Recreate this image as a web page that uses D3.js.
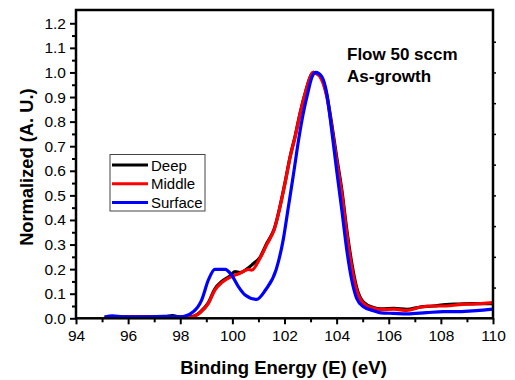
<!DOCTYPE html>
<html><head><meta charset="utf-8">
<script src="https://cdn.jsdelivr.net/npm/d3@7"></script>
<style>body{margin:0;background:#fff}svg{display:block}text{font-family:"Liberation Sans",Arial,sans-serif}</style>
</head><body><svg id="c" width="515" height="380"></svg>
<script>
const seriesNames = ["Deep", "Middle", "Surface"];
const seriesColors = ["#000000", "#ff0000", "#0000ff"];
const deepX = [95.1,95.6,96.2,96.8,97.4,97.7,97.99,98.37,98.76,99.08,99.33,99.59,99.91,100.1,100.29,100.55,100.8,101.06,101.32,101.6,102.02,102.22,102.41,102.6,102.83,102.97,103.1,103.2,103.36,103.62,103.81,104.0,104.2,104.39,104.58,104.77,105.03,105.41,105.7,106.2,106.7,107.2,107.7,108.2,108.7,109.2,110.0];
const deepY = [0.005,0.006,0.005,0.007,0.008,0.011,0.006,0.006,0.025,0.064,0.12,0.15,0.172,0.19,0.186,0.2,0.222,0.248,0.305,0.362,0.552,0.66,0.742,0.836,0.93,0.978,1.0,0.998,0.988,0.91,0.792,0.657,0.522,0.36,0.225,0.125,0.066,0.044,0.038,0.04,0.036,0.046,0.05,0.056,0.058,0.06,0.06];
const middleX = [95.1,95.6,96.2,96.8,97.4,97.99,98.37,98.76,99.08,99.33,99.59,99.91,100.29,100.61,100.74,101.06,101.32,101.6,102.02,102.22,102.41,102.6,102.83,102.97,103.1,103.2,103.36,103.62,103.81,104.0,104.2,104.39,104.58,104.77,105.03,105.41,105.7,106.2,106.7,107.2,107.7,108.2,108.7,109.2,110.0];
const middleY = [0.004,0.005,0.006,0.006,0.007,0.002,0.004,0.023,0.061,0.115,0.145,0.167,0.183,0.199,0.196,0.244,0.3,0.359,0.549,0.657,0.739,0.834,0.929,0.976,1.0,0.996,0.983,0.902,0.78,0.644,0.509,0.346,0.21,0.115,0.061,0.041,0.036,0.037,0.032,0.045,0.05,0.05,0.056,0.058,0.064];
const surfaceX = [95.1,95.4,95.8,96.2,96.8,97.4,97.99,98.5,98.82,99.08,99.33,99.72,99.97,100.23,100.49,100.93,101.27,101.68,101.95,102.15,102.35,102.54,102.72,102.89,103.06,103.2,103.43,103.62,103.81,104.0,104.2,104.39,104.58,104.77,105.03,105.41,105.7,106.2,106.7,107.45,108.1,108.7,109.36,110.0];
const surfaceY = [0.005,0.01,0.006,0.006,0.006,0.007,0.006,0.027,0.074,0.156,0.199,0.199,0.176,0.129,0.095,0.077,0.115,0.198,0.319,0.454,0.59,0.725,0.834,0.915,0.983,1.0,0.983,0.915,0.766,0.603,0.44,0.278,0.156,0.081,0.047,0.031,0.022,0.02,0.018,0.023,0.027,0.027,0.031,0.037];
const xTicks = [94,96,98,100,102,104,106,108,110];
const yTicks = [0,0.1,0.2,0.3,0.4,0.5,0.6,0.7,0.8,0.9,1.0,1.1,1.2];
const xLabel = "Binding Energy (E) (eV)";
const yLabel = "Normalized (A. U.)";
const annotation = ["Flow 50 sccm", "As-growth"];

const svg = d3.select("#c");
const L = 76, R = 493, T = 10, B = 318.3;
const x = d3.scaleLinear().domain([94,110]).range([L,R]);
const y = d3.scaleLinear().domain([0,1.254]).range([B,T]);

const data = [[deepX,deepY],[middleX,middleY],[surfaceX,surfaceY]];
const line = d3.line().x(d=>x(d[0])).y(d=>y(d[1])).curve(d3.curveMonotoneX);
svg.append("clipPath").attr("id","cp").append("rect").attr("x",L).attr("y",T).attr("width",R-L).attr("height",B-T);
const g = svg.append("g").attr("clip-path","url(#cp)");
data.forEach((s,i)=>{
  const pts = s[0].map((v,j)=>[v,s[1][j]]);
  g.append("path").attr("d",line(pts)).attr("fill","none").attr("stroke",seriesColors[i]).attr("stroke-width",3.2).attr("stroke-linejoin","round");
});

// frame
svg.append("rect").attr("x",L).attr("y",T).attr("width",R-L).attr("height",B-T).attr("fill","none").attr("stroke","#000").attr("stroke-width",2.5);

// axes
const xAx = svg.append("g").attr("transform",`translate(0,${B})`)
  .call(d3.axisBottom(x).tickValues(xTicks).tickFormat(d3.format("d")).tickSize(6).tickPadding(6));
xAx.select(".domain").remove();
xAx.selectAll(".tick line").attr("stroke-width",2);
xAx.selectAll("text").attr("font-size",15.5).attr("fill","#000");
const xMin = svg.append("g").attr("transform",`translate(0,${B})`)
  .call(d3.axisBottom(x).tickValues(d3.range(95,110,2)).tickFormat("").tickSize(4));
xMin.select(".domain").remove(); xMin.selectAll(".tick line").attr("stroke-width",2);

const yAx = svg.append("g").attr("transform",`translate(${L},0)`)
  .call(d3.axisLeft(y).tickValues(yTicks).tickFormat(d3.format(".1f")).tickSize(6).tickPadding(4));
yAx.select(".domain").remove();
yAx.selectAll(".tick line").attr("stroke-width",2);
yAx.selectAll("text").attr("font-size",15.5).attr("fill","#000");
const yMin = svg.append("g").attr("transform",`translate(${L},0)`)
  .call(d3.axisLeft(y).tickValues(d3.range(0.05,1.25,0.1)).tickFormat("").tickSize(4));
yMin.select(".domain").remove(); yMin.selectAll(".tick line").attr("stroke-width",2);

const yR = svg.append("g").attr("transform",`translate(${R},0)`)
  .call(d3.axisRight(y).tickValues(d3.range(0.125,1.25,0.125)).tickFormat("").tickSize(3));
yR.select(".domain").remove(); yR.selectAll(".tick line").attr("stroke-width",1.5);

// titles
svg.append("text").attr("x",(L+R)/2-1).attr("y",374).attr("text-anchor","middle").attr("font-size",18.5).attr("font-weight","bold").text(xLabel);
svg.append("text").attr("transform",`translate(33,${(T+B)/2+3}) rotate(-90)`).attr("text-anchor","middle").attr("font-size",18.3).attr("font-weight","bold").text(yLabel);

// annotation
annotation.forEach((t,i)=>svg.append("text").attr("x",347).attr("y",60+i*21.5).attr("font-size",17).attr("font-weight","bold").text(t));

// legend
const lg = svg.append("g");
lg.append("rect").attr("x",110).attr("y",154.5).attr("width",95).attr("height",56.5).attr("fill","#fff").attr("stroke","#444").attr("stroke-width",1);
seriesNames.forEach((n,i)=>{
  const yy = 165 + i*18.7;
  lg.append("line").attr("x1",112).attr("x2",148).attr("y1",yy).attr("y2",yy).attr("stroke",seriesColors[i]).attr("stroke-width",3);
  lg.append("text").attr("x",151).attr("y",yy+5.5).attr("font-size",15).text(n);
});
</script></body></html>
